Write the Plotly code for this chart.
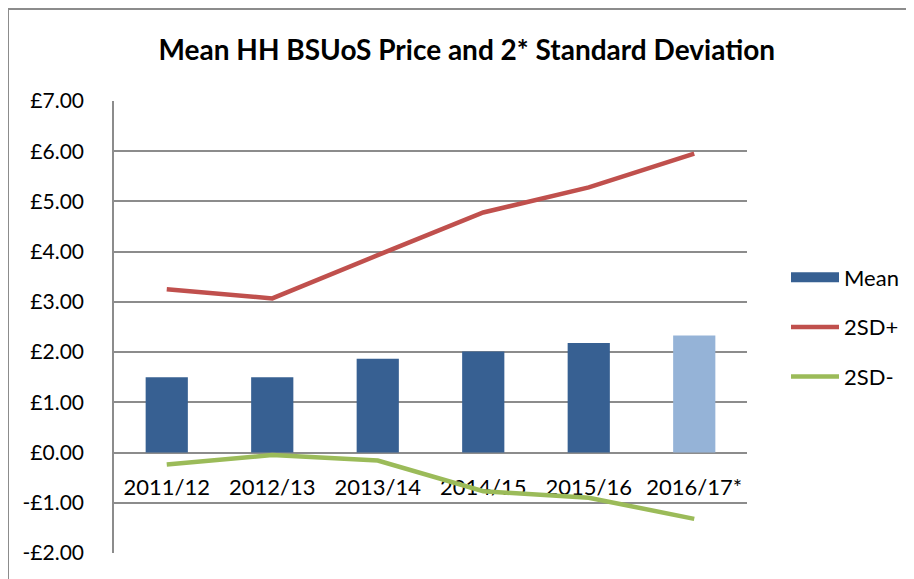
import plotly.graph_objects as go

categories = ["2011/12", "2012/13", "2013/14", "2014/15", "2015/16", "2016/17*"]
mean_vals = [1.50, 1.50, 1.87, 2.01, 2.18, 2.33]
sd_plus = [3.25, 3.07, 3.93, 4.78, 5.28, 5.95]
sd_minus = [-0.24, -0.05, -0.16, -0.77, -0.90, -1.32]
y_ticks = [-2, -1, 0, 1, 2, 3, 4, 5, 6, 7]
y_tick_labels = ["-£2.00", "-£1.00", "£0.00", "£1.00", "£2.00", "£3.00",
                 "£4.00", "£5.00", "£6.00", "£7.00"]

DARK = "#376092"
LIGHT = "#95B3D7"
RED = "#C0504D"
GREEN = "#9BBB59"
GRID = "#8C8C8C"
FONT = "Lato"

bar_colors = [DARK] * (len(categories) - 1) + [LIGHT]
ymin, ymax = -2, 7

ML, MR, MT, MB = 106, 175, 93, 34
PW = 914 - ML - MR
PH = 579 - MT - MB

fig = go.Figure()
fig.add_trace(go.Bar(x=categories, y=mean_vals, marker=dict(color=bar_colors, line=dict(width=0)),
                     width=0.4, showlegend=False, name="Mean"))
# legend proxy for Mean (wide rectangle like the original)
fig.add_trace(go.Scatter(x=[None], y=[None], mode="lines", name="Mean",
                         line=dict(color=DARK, width=13), legendgroup="a"))
fig.add_trace(go.Scatter(x=categories, y=sd_plus, mode="lines", name="2SD+",
                         line=dict(color=RED, width=4.5), legendgroup="b"))
fig.add_trace(go.Scatter(x=categories, y=sd_minus, mode="lines", name="2SD-",
                         line=dict(color=GREEN, width=4.5), legendgroup="c"))

fig.update_layout(
    width=914, height=579,
    margin=dict(l=ML, r=MR, t=MT, b=MB, autoexpand=False),
    paper_bgcolor="white", plot_bgcolor="white",
    font=dict(family=FONT, size=21, color="black"),
    title=dict(text="<b>Mean HH BSUoS Price and 2* Standard Deviation</b>",
               x=0.502, xref="container", xanchor="center", y=0.927, yanchor="middle",
               font=dict(family=FONT, size=28, color="black")),
    showlegend=True,
    legend=dict(x=(778 - ML) / PW, xanchor="left", y=0.5, yanchor="middle",
                font=dict(family=FONT, size=22), itemwidth=48,
                traceorder="grouped", tracegroupgap=18, bgcolor="rgba(0,0,0,0)"),
    bargap=0.6,
    shapes=[dict(type="rect", xref="paper", yref="paper",
                 x0=(0 - ML) / PW, x1=1.5, y0=-0.3, y1=(579 - MB - 1) / PH,
                 line=dict(color=GRID, width=2), fillcolor="rgba(0,0,0,0)", layer="below")],
)

fig.update_xaxes(
    type="category", anchor="free", position=(0 - ymin) / (ymax - ymin),
    showline=False, showgrid=False, ticks="", ticklabelstandoff=19, automargin=False,
    tickfont=dict(family=FONT, size=22), layer="below traces",
)
fig.update_yaxes(
    range=[ymin, ymax], tickvals=y_ticks, ticktext=y_tick_labels,
    showgrid=True, gridcolor=GRID, gridwidth=1.5, automargin=False,
    zeroline=False, showline=True, linecolor=GRID, linewidth=1.5,
    ticks="", ticklabelstandoff=24, tickfont=dict(family=FONT, size=21),
)

fig.write_html("out.html")
